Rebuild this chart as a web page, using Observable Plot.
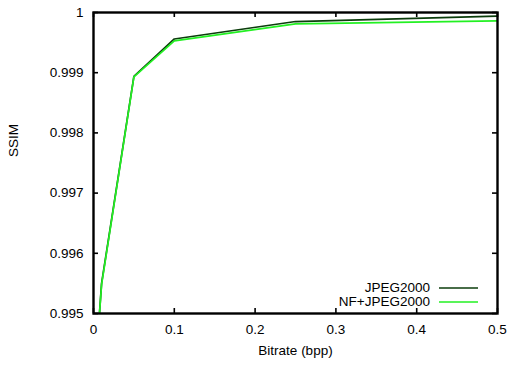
<!DOCTYPE html>
<html>
<head>
<meta charset="utf-8">
<script src="https://cdn.jsdelivr.net/npm/d3@7"></script>
<script src="https://cdn.jsdelivr.net/npm/@observablehq/plot@0.6"></script>
<style>
  html, body { margin: 0; padding: 0; background: #fff; }
</style>
</head>
<body>
<div id="chart"></div>
<script>
// ---- data ----
const bitrates = [0.005, 0.01, 0.05, 0.1, 0.25, 0.5];
const jpeg2000 = [0.99455, 0.99550, 0.99894, 0.99956, 0.99985, 0.99994];
const nfJpeg2000 = [0.99455, 0.99548, 0.99893, 0.99953, 0.99981, 0.99986];
const seriesNames = ["JPEG2000", "NF+JPEG2000"];
const seriesColors = ["#0b3d0b", "#22f022"];
const xTicks = [0, 0.1, 0.2, 0.3, 0.4, 0.5];
const xTickLabels = ["0", "0.1", "0.2", "0.3", "0.4", "0.5"];
const yTicks = [0.995, 0.996, 0.997, 0.998, 0.999, 1];
const yTickLabels = ["0.995", "0.996", "0.997", "0.998", "0.999", "1"];
const xLabel = "Bitrate (bpp)";
const yLabel = "SSIM";

// ---- table ----
const seriesValues = [jpeg2000, nfJpeg2000];
const rows = [];
seriesNames.forEach((name, s) => {
  bitrates.forEach((b, i) => rows.push({series: name, x: b, y: seriesValues[s][i]}));
});

const W = 508, H = 365;
const mL = 93, mR = 11, mT = 12, mB = 52;
const plotW = W - mL - mR, plotH = H - mT - mB;
const tickLen = 5;

function legendMark(index, scales, values, dims) {
  const g = d3.create("svg:g");
  const right = dims.width - dims.marginRight;
  const bottom = dims.height - dims.marginBottom;
  seriesNames.forEach((name, i) => {
    const y = bottom - 25 + i * 14;
    g.append("text")
      .attr("x", right - 67).attr("y", y)
      .attr("text-anchor", "end").attr("dy", "0.32em")
      .attr("fill", "black")
      .text(name);
    g.append("line")
      .attr("x1", right - 58).attr("x2", right - 19)
      .attr("y1", y).attr("y2", y)
      .attr("stroke", seriesColors[i]).attr("stroke-width", 1.6);
  });
  return g.node();
}

const chart = Plot.plot({
  width: W,
  height: H,
  marginLeft: mL,
  marginRight: mR,
  marginTop: mT,
  marginBottom: mB,
  style: {fontFamily: "'Liberation Sans', Arial, Helvetica, sans-serif", fontSize: "13.5px", color: "black", background: "white"},
  x: {domain: [0, 0.5]},
  y: {domain: [0.995, 1]},
  color: {domain: seriesNames, range: seriesColors},
  marks: [
    Plot.axisX({ticks: xTicks, tickSize: 0, tickPadding: 11, tickFormat: (d, i) => xTickLabels[i], label: null}),
    Plot.axisY({ticks: yTicks, tickSize: 0, tickPadding: 10, tickFormat: (d, i) => yTickLabels[i], label: null}),
    Plot.line(rows, {x: "x", y: "y", z: "series", stroke: "series", strokeWidth: 1.7, clip: true}),
    // inward ticks on all four sides
    Plot.tickX(xTicks, {x: d => d, insetTop: plotH - tickLen, stroke: "black", strokeWidth: 1.6}),
    Plot.tickX(xTicks, {x: d => d, insetBottom: plotH - tickLen, stroke: "black", strokeWidth: 1.6}),
    Plot.tickY(yTicks, {y: d => d, insetRight: plotW - tickLen, stroke: "black", strokeWidth: 1.6}),
    Plot.tickY(yTicks, {y: d => d, insetLeft: plotW - tickLen, stroke: "black", strokeWidth: 1.6}),
    Plot.frame({stroke: "black", strokeWidth: 2.4}),
    Plot.text([xLabel], {text: d => d, frameAnchor: "bottom", dy: 37, lineAnchor: "middle", fill: "black"}),
    Plot.text([yLabel], {text: d => d, frameAnchor: "left", dx: -80, dy: -6, rotate: -90, fill: "black"}),
    legendMark
  ]
});
document.getElementById("chart").appendChild(chart);
</script>
</body>
</html>
